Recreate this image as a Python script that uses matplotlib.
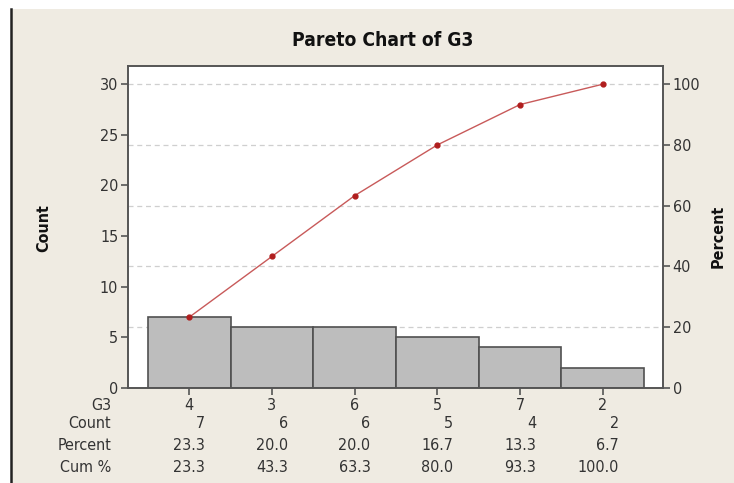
import numpy as np
import matplotlib
matplotlib.use('Agg')
from matplotlib import pyplot as plt
from matplotlib.patches import Rectangle
from matplotlib.lines import Line2D

categories = ['4', '3', '6', '5', '7', '2']
counts = [7, 6, 6, 5, 4, 2]
percent = [23.3, 20.0, 20.0, 16.7, 13.3, 6.7]
cum_pct = [23.3, 43.3, 63.3, 80.0, 93.3, 100.0]
count_ticks = [0, 5, 10, 15, 20, 25, 30]
pct_ticks = [0, 20, 40, 60, 80, 100]

W, H = 734, 483
bg = '#efebe2'
plt.rcParams['font.family'] = ['DejaVu Sans']
plt.rcParams['font.stretch'] = 'condensed'

fig = plt.figure(figsize=(W / 100, H / 100), dpi=100)
fig.patch.set_facecolor('white')
# beige panel with black left border
fig.patches.append(Rectangle((11 / W, 0), 1, 1 - 9 / H, transform=fig.transFigure,
                             facecolor=bg, edgecolor='none', zorder=-10))
fig.lines.append(Line2D([11 / W, 11 / W], [0, 1 - 9 / H], transform=fig.transFigure,
                        color='#222222', lw=1.8))

def fx(px):
    return px / W

def fy(py):
    return 1 - py / H

ax = fig.add_axes([fx(128), fy(388), fx(663) - fx(128), fy(66) - fy(388)])
ax.set_facecolor('white')
ymax = 31.8
ax.set_ylim(0, ymax)
x = np.arange(len(categories))
ax.set_xlim(-0.74, len(categories) - 1 + 0.73)

# grid lines at percent ticks
for p in pct_ticks[1:]:
    ax.axhline(p * 30 / 100, color='#cfcfcf', lw=0.9, ls=(0, (4, 3)), zorder=0)

ax.bar(x, counts, width=1.0, color='#bdbdbd', edgecolor='#505050', lw=1.2, zorder=2)

ax2 = ax.twinx()
ax2.set_ylim(0, ymax * 100 / 30)
ax2.plot(x, cum_pct, color='#c85a5a', lw=1.0, zorder=3)
ax2.plot(x, cum_pct, 'o', color='#b01e1e', markersize=3.5, zorder=4)

for a in (ax, ax2):
    for s in a.spines.values():
        s.set_color('#555555')
        s.set_linewidth(1.2)

ax.set_yticks(count_ticks)
ax2.set_yticks(pct_ticks)
ax.tick_params(axis='y', direction='out', length=5, width=1.2, color='#555555',
               labelsize=11.5, labelcolor='#333333', pad=2)
ax2.tick_params(axis='y', direction='out', length=5, width=1.2, color='#555555',
                labelsize=11.5, labelcolor='#333333', pad=2)
ax.set_xticks(x)
ax.set_xticklabels(categories)
ax.tick_params(axis='x', direction='out', length=5, width=1.2, color='#555555',
               labelsize=11.5, labelcolor='#333333', pad=2)

fig.text(fx(383), fy(41), 'Pareto Chart of G3', ha='center', va='center',
         fontsize=13.8, fontweight='bold', color='#111111')
fig.text(fx(44), fy(228), 'Count', rotation=90, ha='center', va='center',
         fontsize=11.5, fontweight='bold', color='#111111')
fig.text(fx(718), fy(236), 'Percent', rotation=90, ha='center', va='center',
         fontsize=11.5, fontweight='bold', color='#111111')

# table below the chart
row_labels = ['G3', 'Count', 'Percent', 'Cum %']
row_y = [405, 423, 446, 467]
for lab, py in zip(row_labels, row_y):
    fig.text(fx(111), fy(py), lab, ha='right', va='center', fontsize=11.5, color='#333333')

rows = [[str(c) for c in counts],
        ['%.1f' % p for p in percent],
        ['%.1f' % c for c in cum_pct]]
xpx = ax.transData.transform(np.column_stack([x, np.zeros(len(x))]))[:, 0]
for vals, py in zip(rows, row_y[1:]):
    for xp, v in zip(xpx, vals):
        fig.text(fx(xp + 16), fy(py), v, ha='right', va='center', fontsize=11.5, color='#333333')

fig.savefig('out.png', dpi=100, facecolor=fig.get_facecolor())
